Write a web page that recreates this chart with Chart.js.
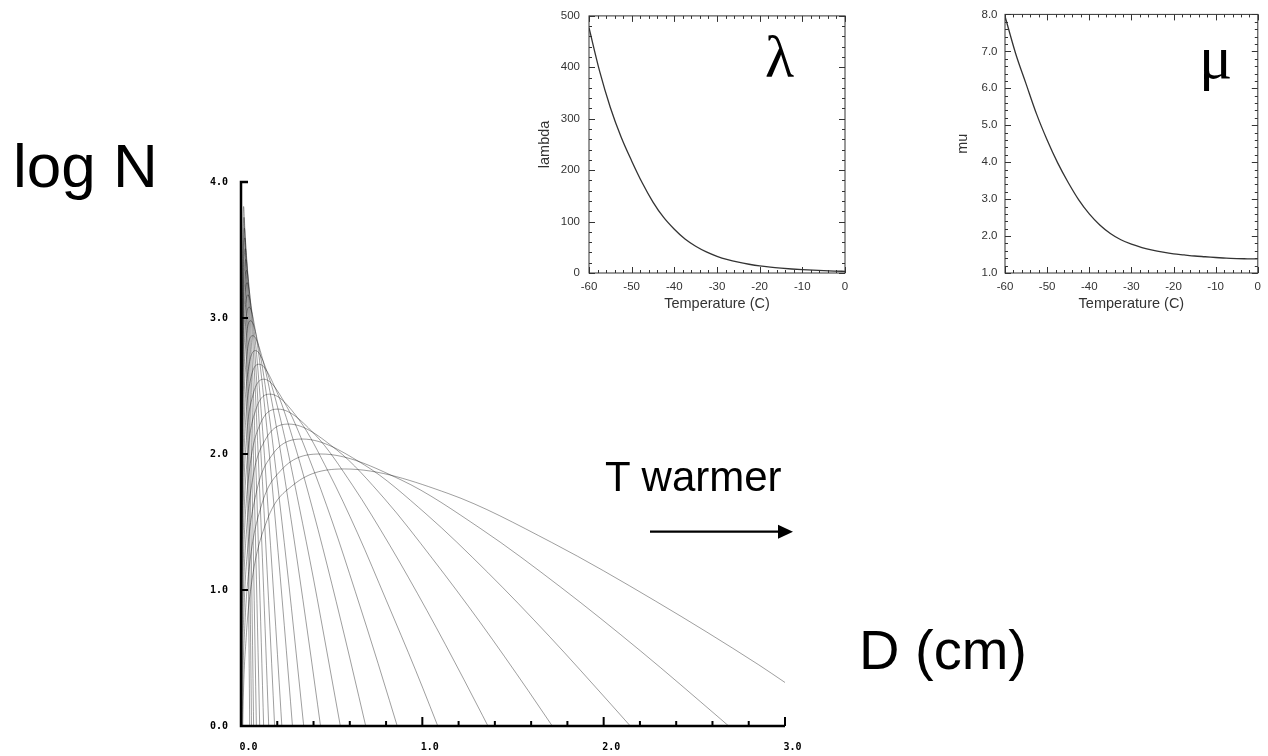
<!DOCTYPE html>
<html>
<head>
<meta charset="utf-8">
<script src="https://cdn.jsdelivr.net/npm/chart.js@4.4.1/dist/chart.umd.min.js"></script>
<style>
  html, body { margin: 0; padding: 0; background: #fff; }
  #page { position: relative; width: 1268px; height: 756px; overflow: hidden; }
  canvas { position: absolute; left: 0; top: 0; }
  .lbl { position: absolute; white-space: nowrap; color: #000; }
</style>
</head>
<body>
<div id="page">
  <canvas id="dsdchart" width="1268" height="756"></canvas>
  <canvas id="lambdachart" width="1268" height="756"></canvas>
  <canvas id="muchart" width="1268" height="756"></canvas>
  <div class="lbl" style="left:13px;top:135px;font:62px/1 'Liberation Sans'">log N</div>
  <div class="lbl" style="left:859px;top:622px;font:56px/1 'Liberation Sans'">D (cm)</div>
  <div class="lbl" style="left:605px;top:456px;font:42px/1 'Liberation Sans'">T warmer</div>
  <div class="lbl" style="left:765px;top:27px;font:60px/1 'Liberation Serif'">λ</div>
  <div class="lbl" style="left:1199px;top:26px;font:62px/1 'Liberation Serif'">μ</div>
  <svg style="position:absolute;left:0;top:0" width="1268" height="756">
    <line x1="650" y1="531.7" x2="781" y2="531.7" stroke="#000" stroke-width="2.2"/>
    <polygon points="778,524.7 793,531.7 778,538.7" fill="#000"/>
  </svg>
</div>
<script>
// Inset data: size distribution parameters vs temperature
const insetTemps = [-60, -57.5, -55, -52.5, -50, -47.5, -45, -42.5, -40, -37.5, -35, -32.5, -30,
                    -27.5, -25, -22.5, -20, -17.5, -15, -12.5, -10, -7.5, -5, -2.5, 0];
const lambdaVals = [477, 392, 322, 265, 218, 175, 138, 108, 85, 66, 52, 41, 32.5,
                    26, 21, 17, 13.7, 11.3, 9.4, 7.8, 6.5, 5.4, 4.5, 3.8, 3.2];
const muVals = [7.95, 6.95, 6.12, 5.3, 4.6, 3.98, 3.45, 2.98, 2.6, 2.3, 2.07, 1.9, 1.78,
                1.69, 1.62, 1.565, 1.52, 1.49, 1.46, 1.44, 1.42, 1.40, 1.39, 1.385, 1.38];

// Main plot: one curve [D (cm), log N] per temperature, warm to cold
const dsdTemps = [0, -3, -6, -9, -12, -15, -18, -21, -24, -27, -30, -33, -36, -39, -42, -45, -48, -51, -54, -57, -60];
const dsdT00 = [[0.0029,-0.71],[0.0114,0.12],[0.0286,0.65],[0.0571,1.04],[0.143,1.51],[0.286,1.77],[0.571,1.89],[1.142,1.71],[1.713,1.35],[2.284,0.92],[2.855,0.45],[3.0,0.32]];
const dsdT03 = [[0.0022,-0.62],[0.0088,0.22],[0.022,0.76],[0.044,1.15],[0.110,1.61],[0.2205,1.88],[0.441,2.00],[0.882,1.81],[1.323,1.45],[1.764,1.02],[2.205,0.55],[2.646,0.05],[3.087,-0.46]];
const dsdT06 = [[0.0017,-0.51],[0.0068,0.33],[0.017,0.87],[0.034,1.26],[0.085,1.72],[0.170,1.99],[0.340,2.11],[0.680,1.92],[1.020,1.56],[1.360,1.13],[1.700,0.66],[2.040,0.16],[2.380,-0.35]];
const dsdT09 = [[0.0013,-0.42],[0.0053,0.42],[0.0132,0.97],[0.0264,1.36],[0.066,1.83],[0.132,2.10],[0.264,2.22],[0.528,2.03],[0.792,1.67],[1.056,1.23],[1.320,0.76],[1.584,0.26],[1.848,-0.26]];
const dsdT12 = [[0.0010,-0.34],[0.0041,0.51],[0.0103,1.06],[0.0205,1.46],[0.0513,1.93],[0.1025,2.21],[0.205,2.33],[0.410,2.14],[0.615,1.77],[0.820,1.33],[1.025,0.85],[1.230,0.34],[1.435,-0.19]];
const dsdT15 = [[0.0008,-0.29],[0.0032,0.58],[0.0080,1.14],[0.0161,1.55],[0.0401,2.04],[0.0803,2.32],[0.1605,2.44],[0.321,2.25],[0.4815,1.87],[0.642,1.42],[0.8025,0.92],[0.963,0.41],[1.1235,-0.13]];
const dsdT18 = [[0.00063,-0.25],[0.0025,0.64],[0.0063,1.22],[0.0126,1.64],[0.0315,2.14],[0.063,2.42],[0.126,2.55],[0.252,2.35],[0.378,1.96],[0.504,1.50],[0.630,0.99],[0.756,0.46],[0.882,-0.09]];
const dsdT21 = [[0.0005,-0.24],[0.002,0.69],[0.005,1.28],[0.010,1.72],[0.025,2.23],[0.050,2.53],[0.100,2.66],[0.200,2.45],[0.300,2.05],[0.400,1.57],[0.500,1.05],[0.600,0.50],[0.700,-0.07]];
const dsdT24 = [[0.0004,-0.27],[0.0016,0.70],[0.004,1.32],[0.008,1.77],[0.020,2.31],[0.040,2.62],[0.080,2.76],[0.160,2.54],[0.240,2.13],[0.320,1.62],[0.400,1.08],[0.480,0.50],[0.560,-0.09]];
const dsdT27 = [[0.0003,-0.35],[0.0013,0.68],[0.0033,1.34],[0.0065,1.82],[0.0163,2.40],[0.0325,2.73],[0.065,2.87],[0.130,2.64],[0.195,2.20],[0.260,1.66],[0.325,1.08],[0.390,0.47],[0.455,-0.16]];
const dsdT30 = [[0.00027,-0.53],[0.0011,0.59],[0.0027,1.31],[0.0053,1.84],[0.0133,2.46],[0.0265,2.82],[0.053,2.98],[0.106,2.73],[0.159,2.25],[0.212,1.66],[0.265,1.03],[0.318,0.36],[0.371,-0.33]];
const dsdT33 = [[0.00023,-0.81],[0.0009,0.43],[0.0023,1.23],[0.0046,1.81],[0.0114,2.51],[0.0228,2.91],[0.0455,3.08],[0.091,2.80],[0.1365,2.27],[0.182,1.62],[0.2275,0.92],[0.273,0.18],[0.3185,-0.58]];
const dsdT36 = [[0.0002,-1.22],[0.0008,0.18],[0.0019,1.08],[0.0038,1.74],[0.0096,2.52],[0.0192,2.97],[0.0383,3.17],[0.0766,2.86],[0.1149,2.25],[0.1532,1.52],[0.1915,0.73],[0.2298,-0.10]];
const dsdT39 = [[0.0007,-0.18],[0.0017,0.86],[0.0034,1.62],[0.0085,2.51],[0.0169,3.03],[0.0338,3.26],[0.0676,2.90],[0.1014,2.20],[0.1352,1.37],[0.169,0.46],[0.2028,-0.50]];
const dsdT42 = [[0.0006,-0.73],[0.0015,0.51],[0.003,1.40],[0.0076,2.47],[0.0152,3.08],[0.0304,3.35],[0.0608,2.92],[0.0912,2.10],[0.1216,1.11],[0.152,0.03],[0.1824,-1.11]];
const dsdT45 = [[0.0005,-1.41],[0.0014,0.05],[0.0027,1.12],[0.0068,2.38],[0.0136,3.11],[0.0271,3.43],[0.0542,2.92],[0.0813,1.94],[0.1084,0.77],[0.1355,-0.51]];
const dsdT48 = [[0.0012,-0.49],[0.0024,0.77],[0.0061,2.27],[0.0122,3.13],[0.0243,3.51],[0.0486,2.91],[0.0729,1.75],[0.0972,0.36],[0.1215,-1.16]];
const dsdT51 = [[0.0011,-1.12],[0.0022,0.36],[0.0054,2.13],[0.0108,3.15],[0.0216,3.59],[0.0432,2.89],[0.0648,1.52],[0.0864,-0.13]];
const dsdT54 = [[0.0019,-0.06],[0.0047,1.97],[0.0095,3.15],[0.0189,3.66],[0.0378,2.85],[0.0567,1.28],[0.0756,-0.62]];
const dsdT57 = [[0.0017,-0.52],[0.0042,1.81],[0.0084,3.15],[0.0167,3.74],[0.0334,2.81],[0.0501,1.00],[0.0668,-1.17]];
const dsdT60 = [[0.0015,-1.02],[0.0036,1.62],[0.0073,3.15],[0.0145,3.82],[0.029,2.76],[0.0435,0.71],[0.058,-1.75]];
const dsdCurves = [dsdT00, dsdT03, dsdT06, dsdT09, dsdT12, dsdT15, dsdT18, dsdT21, dsdT24, dsdT27, dsdT30,
                   dsdT33, dsdT36, dsdT39, dsdT42, dsdT45, dsdT48, dsdT51, dsdT54, dsdT57, dsdT60];

Chart.defaults.animation = false;
Chart.defaults.font.family = "'Liberation Sans', Arial, sans-serif";

// Axis line + inward ticks for the big plot (no top/right border)
const mainAxes = {
    id: 'mainAxes',
    afterDatasetsDraw(chart) {
        const {ctx, chartArea: a, scales: {x, y}} = chart;
        ctx.save();
        ctx.strokeStyle = '#000';
        ctx.lineWidth = 2.5;
        ctx.beginPath();
        ctx.moveTo(a.left + 7, a.top);
        ctx.lineTo(a.left, a.top);
        ctx.lineTo(a.left, a.bottom);
        ctx.lineTo(a.right, a.bottom);
        ctx.stroke();
        ctx.lineWidth = 2;
        ctx.beginPath();
        for (let v = 1; v < 4; v++) {
            const py = y.getPixelForValue(v);
            ctx.moveTo(a.left, py);
            ctx.lineTo(a.left + 7, py);
        }
        for (let i = 1; i <= 15; i++) {
            const px = x.getPixelForValue(i * 0.2);
            const len = i % 5 === 0 ? 9 : 5;
            ctx.moveTo(px, a.bottom);
            ctx.lineTo(px, a.bottom - len);
        }
        ctx.stroke();
        ctx.restore();
    }
};

// Boxed frame with inward major/minor ticks on all four sides (insets)
const frameTicks = {
    id: 'frameTicks',
    afterDatasetsDraw(chart, args, opts) {
        const {ctx, chartArea: a, scales: {x, y}} = chart;
        const isMajor = (v, step) => Math.abs(v / step - Math.round(v / step)) < 1e-6;
        ctx.save();
        ctx.strokeStyle = '#333';
        ctx.lineWidth = 1;
        ctx.strokeRect(a.left, a.top, a.right - a.left, a.bottom - a.top);
        ctx.beginPath();
        for (let v = x.min; v <= x.max + 1e-9; v += opts.xMinor) {
            const px = Math.round(x.getPixelForValue(v)) + 0.5;
            const len = isMajor(v, opts.xMajor) ? 6 : 3;
            ctx.moveTo(px, a.bottom); ctx.lineTo(px, a.bottom - len);
            ctx.moveTo(px, a.top); ctx.lineTo(px, a.top + len);
        }
        for (let v = y.min; v <= y.max + 1e-9; v += opts.yMinor) {
            const py = Math.round(y.getPixelForValue(v)) + 0.5;
            const len = isMajor(v - y.min, opts.yMajor) ? 6 : 3;
            ctx.moveTo(a.left, py); ctx.lineTo(a.left + len, py);
            ctx.moveTo(a.right, py); ctx.lineTo(a.right - len, py);
        }
        ctx.stroke();
        ctx.restore();
    }
};

// Big plot: log N vs D
const dsdChart = new Chart(document.getElementById('dsdchart'), {
    type: 'line',
    data: {
        datasets: dsdCurves.map((pts, i) => ({
            label: dsdTemps[i] + ' C',
            data: pts.map(p => ({x: p[0], y: p[1]})),
            borderColor: 'rgba(0,0,0,0.38)',
            borderWidth: 1,
            pointRadius: 0,
            cubicInterpolationMode: 'monotone',
            fill: false
        }))
    },
    options: {
        responsive: false,
        events: [],
        layout: {padding: {left: 201, top: 182, right: 483, bottom: 0}},
        plugins: {legend: {display: false}, tooltip: {enabled: false}},
        scales: {
            x: {
                type: 'linear', min: 0, max: 3,
                grid: {display: false, drawTicks: false},
                border: {display: false},
                ticks: {
                    stepSize: 1, padding: 15, labelOffset: 7.5, maxRotation: 0,
                    color: '#000',
                    font: {family: "'DejaVu Sans Mono'", size: 10, weight: 'bold'},
                    callback: v => v.toFixed(1)
                },
                afterFit: s => { s.height = 30; }
            },
            y: {
                min: 0, max: 4,
                grid: {display: false, drawTicks: false},
                border: {display: false},
                ticks: {
                    stepSize: 1, padding: 13, color: '#000',
                    font: {family: "'DejaVu Sans Mono'", size: 10, weight: 'bold'},
                    callback: v => v.toFixed(1)
                },
                afterFit: s => { s.width = 40; }
            }
        }
    },
    plugins: [mainAxes]
});

// Shared setup for the two inset charts
function insetConfig(values, yLabel, yMin, yMax, yStep, yMinor, yFmt, pad, yTickPad) {
    return {
        type: 'line',
        data: {
            datasets: [{
                label: yLabel,
                data: insetTemps.map((t, i) => ({x: t, y: values[i]})),
                borderColor: '#333',
                borderWidth: 1.3,
                pointRadius: 0,
                cubicInterpolationMode: 'monotone',
                fill: false
            }]
        },
        options: {
            responsive: false,
            events: [],
            layout: {padding: pad},
            plugins: {
                legend: {display: false},
                tooltip: {enabled: false},
                frameTicks: {xMinor: 2, xMajor: 10, yMinor: yMinor, yMajor: yStep}
            },
            scales: {
                x: {
                    type: 'linear', min: -60, max: 0,
                    grid: {display: false, drawTicks: false},
                    border: {display: false},
                    ticks: {stepSize: 10, padding: 7, maxRotation: 0, color: '#333', font: {size: 11.5}},
                    title: {display: true, text: 'Temperature (C)', color: '#333', font: {size: 14.5}, padding: 0},
                    afterFit: s => { s.height = 39.7; }
                },
                y: {
                    min: yMin, max: yMax,
                    grid: {display: false, drawTicks: false},
                    border: {display: false},
                    ticks: {stepSize: yStep, padding: yTickPad, color: '#333', font: {size: 11.5}, callback: yFmt},
                    title: {display: true, text: yLabel, color: '#333', font: {size: 14.5}, padding: 0},
                    afterFit: s => { s.width = pad.yWidth; }
                }
            }
        },
        plugins: [frameTicks]
    };
}

const lambdaChart = new Chart(document.getElementById('lambdachart'),
    insetConfig(lambdaVals, 'lambda', 0, 500, 100, 20, v => String(v),
        {left: 536.3, top: 13, right: 423, bottom: 443.3, yWidth: 52.7}, 9));

const muChart = new Chart(document.getElementById('muchart'),
    insetConfig(muVals, 'mu', 1, 8, 1, 0.2, v => v.toFixed(1),
        {left: 954.3, top: 13, right: 5, bottom: 443.3, yWidth: 50.7}, 7.5));
</script>
</body>
</html>
